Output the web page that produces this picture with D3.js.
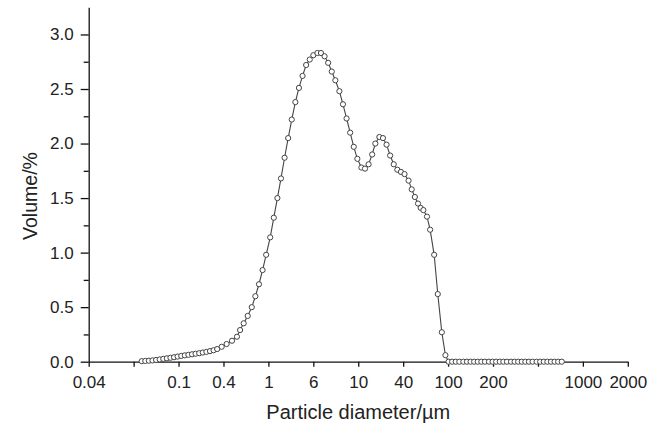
<!DOCTYPE html>
<html>
<head>
<meta charset="utf-8">
<script src="https://cdn.jsdelivr.net/npm/d3@7"></script>
<style>
  body { margin: 0; background: #fff; }
  text { font-family: "Liberation Sans", Arial, sans-serif; fill: #222; }
</style>
</head>
<body>
<div id="chart"></div>
<script>
// x axis ticks are evenly spaced, labels are the ones printed on the original
const tickLabels = ['0.04', '', '0.1', '0.4', '1', '6', '10', '40', '100', '200', '', '1000', '2000']
const yTicks     = [0, 0.5, 1.0, 1.5, 2.0, 2.5, 3.0]

// position of each measured point along the x axis (in tick steps)
const xPos = [
    1.18, 1.26, 1.34, 1.42, 1.50, 1.58, 1.66, 1.74, 1.82, 1.90, 1.98,
    2.06, 2.14, 2.22, 2.30, 2.38, 2.46, 2.54, 2.62, 2.70, 2.78, 2.86,
    2.96, 3.07, 3.19, 3.30, 3.37, 3.45, 3.54, 3.63, 3.71, 3.79, 3.87, 3.95,
    4.04, 4.12, 4.20, 4.28, 4.36, 4.44, 4.52, 4.60, 4.68, 4.76, 4.84, 4.92,
    5.00, 5.09, 5.17, 5.25, 5.33, 5.41, 5.49, 5.58, 5.66, 5.74, 5.82, 5.90,
    5.98, 6.07, 6.15, 6.23, 6.31, 6.38, 6.47, 6.55, 6.63, 6.71, 6.79, 6.87,
    6.95, 7.03, 7.12, 7.19, 7.26, 7.33, 7.39, 7.45, 7.53, 7.60, 7.69, 7.77,
    7.86, 7.94,
    8.01, 8.09, 8.17, 8.25, 8.34, 8.42, 8.50, 8.58, 8.66, 8.74, 8.82, 8.91,
    8.99, 9.07, 9.15, 9.23, 9.31, 9.40, 9.48, 9.56, 9.64, 9.72, 9.80, 9.88,
    9.97, 10.05, 10.13, 10.21, 10.29, 10.37, 10.45, 10.53
]

// volume percentage at each point
const volume = [
    0.005, 0.007, 0.009, 0.012, 0.016, 0.021, 0.026, 0.031, 0.036, 0.041, 0.047,
    0.053, 0.058, 0.063, 0.068, 0.073, 0.078, 0.084, 0.090, 0.097, 0.105, 0.116,
    0.137, 0.162, 0.192, 0.229, 0.29, 0.352, 0.42, 0.50, 0.60, 0.71, 0.84, 0.98,
    1.14, 1.32, 1.50, 1.68, 1.87, 2.05, 2.22, 2.38, 2.51, 2.62, 2.72, 2.77,
    2.81, 2.83, 2.83, 2.80, 2.74, 2.66, 2.58, 2.48, 2.36, 2.23, 2.10, 1.97,
    1.86, 1.78, 1.77, 1.81, 1.90, 2.00, 2.06, 2.05, 1.99, 1.89, 1.81, 1.76,
    1.74, 1.72, 1.66, 1.58, 1.51, 1.45, 1.41, 1.39, 1.33, 1.21, 0.98, 0.62,
    0.27, 0.06,
    0, 0, 0, 0, 0, 0, 0, 0, 0, 0, 0, 0,
    0, 0, 0, 0, 0, 0, 0, 0, 0, 0, 0, 0,
    0, 0, 0, 0, 0, 0, 0, 0
]

const WIDTH  = 663
const HEIGHT = 426

const svg = d3.select('#chart').append('svg')
    .attr('width', WIDTH)
    .attr('height', HEIGHT)

const x = d3.scaleLinear().domain([0, 12]).range([88.7, 627.8])
const y = d3.scaleLinear().domain([0, 3.25]).range([361.7, 7.2])

// y axis: minor ticks first, then the labelled ones
svg.append('g')
    .attr('transform', `translate(${x(0)},0)`)
    .call(d3.axisLeft(y).tickValues(d3.range(0.25, 3.1, 0.5)).tickSize(5).tickFormat(''))
    .call(g => g.select('.domain').remove())

svg.append('g')
    .attr('class', 'y-axis')
    .attr('transform', `translate(${x(0)},0)`)
    .call(d3.axisLeft(y).tickValues(yTicks).tickSize(8).tickSizeOuter(0).tickPadding(7)
        .tickFormat(d3.format('.1f')))

svg.append('g')
    .attr('class', 'x-axis')
    .attr('transform', `translate(0,${y(0)})`)
    .call(d3.axisBottom(x).tickValues(d3.range(0, 13)).tickSize(5).tickSizeOuter(0).tickPadding(9)
        .tickFormat(i => tickLabels[i]))

svg.selectAll('.tick line, .domain').attr('stroke', '#111').attr('stroke-width', 1.3)
svg.selectAll('.tick text').style('font-size', '17px').style('fill', '#222')

svg.append('text')
    .attr('x', (x(0) + x(12)) / 2)
    .attr('y', 419)
    .attr('text-anchor', 'middle')
    .style('font-size', '20px')
    .text('Particle diameter/µm')

svg.append('text')
    .attr('transform', 'translate(37,196) rotate(-90)')
    .attr('text-anchor', 'middle')
    .style('font-size', '19.5px')
    .text('Volume/%')

const points = xPos.map((p, i) => ({ p, v: volume[i] }))

svg.append('path')
    .datum(points)
    .attr('fill', 'none')
    .attr('stroke', '#444')
    .attr('stroke-width', 1.1)
    .attr('d', d3.line().x(d => x(d.p)).y(d => y(d.v)))

svg.append('g').selectAll('circle')
    .data(points)
    .join('circle')
    .attr('cx', d => x(d.p))
    .attr('cy', d => y(d.v))
    .attr('r', 2.6)
    .attr('fill', '#fff')
    .attr('stroke', '#444')
    .attr('stroke-width', 1)
</script>
</body>
</html>
